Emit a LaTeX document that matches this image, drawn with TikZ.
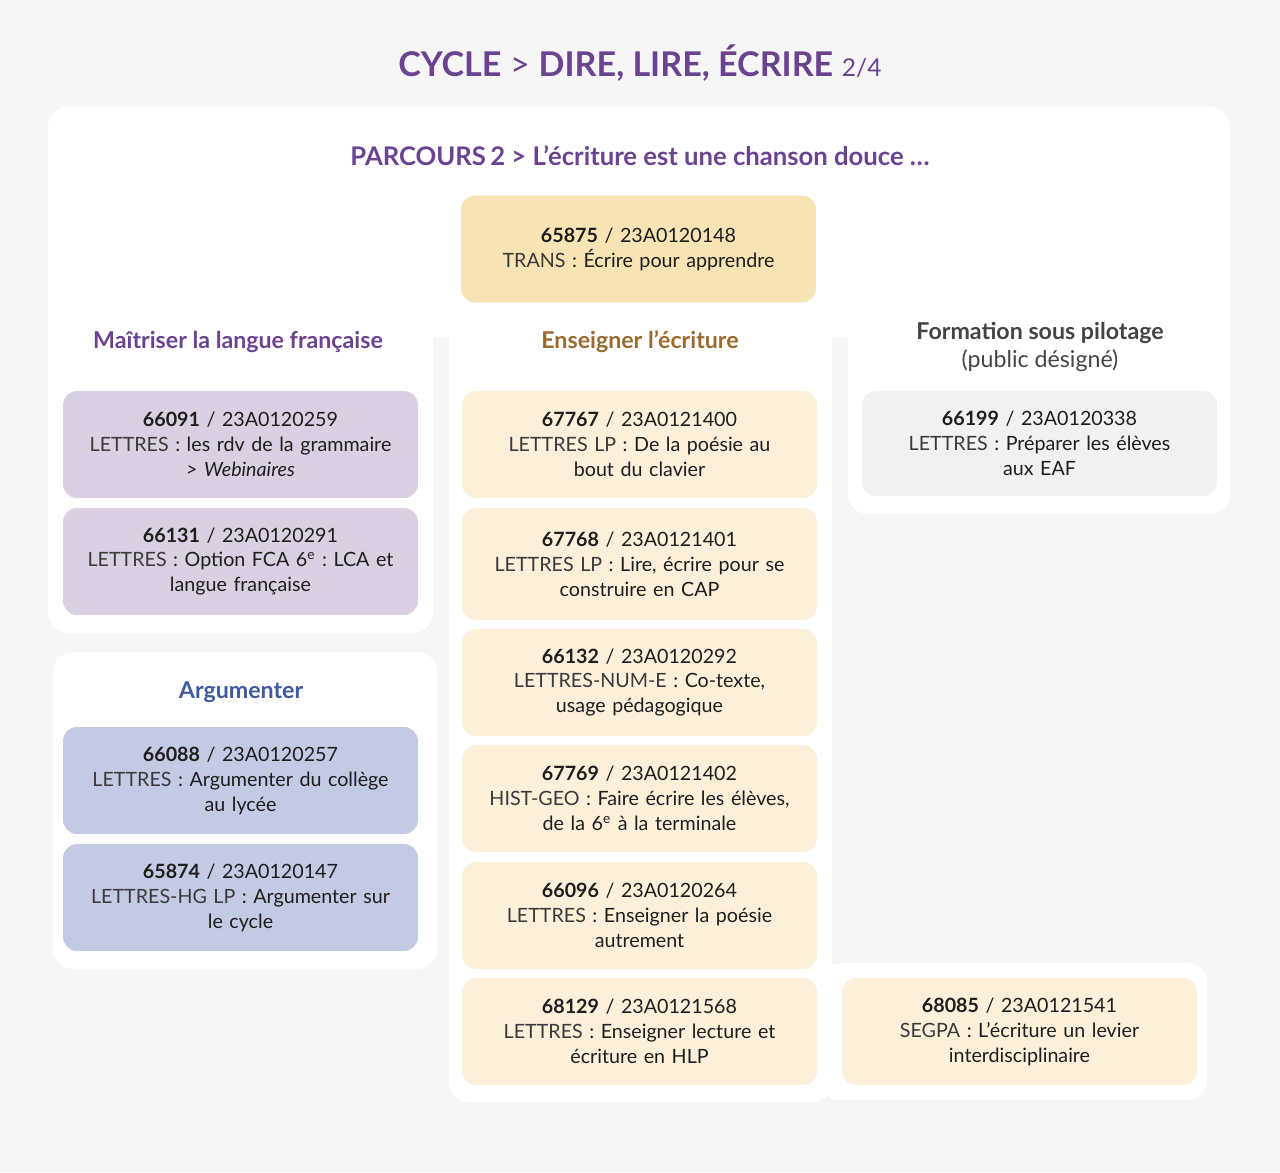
\documentclass[tikz,border=0pt]{standalone}
\usepackage{fontspec}
\setmainfont{Lato}
\frenchspacing
\usetikzlibrary{positioning}
\definecolor{bggray}{HTML}{F6F6F6}
\definecolor{titlepurple}{HTML}{6B4391}
\definecolor{goldbrown}{HTML}{9A6A2F}
\definecolor{argblue}{HTML}{3E5A9E}
\definecolor{pilotgray}{HTML}{444444}
\definecolor{transfill}{HTML}{F7E3B3}
\definecolor{writefill}{HTML}{FCF0DA}
\definecolor{langfill}{HTML}{DBCFE2}
\definecolor{argfill}{HTML}{C3CBE4}
\definecolor{pilotfill}{HTML}{F1F1F1}
\definecolor{bodytext}{HTML}{1E1E1E}
\definecolor{labeltext}{HTML}{3A3A3A}
\newcommand{\coursetext}[4]{\textbf{#1} / #2\\{\color{labeltext}#3} : #4}
\tikzset{
    % white panels behind the columns
    panel/.style={fill=white, rounded corners=0.4cm},
    % course boxes
    coursebox/.style={
        rectangle, rounded corners=0.28cm, inner sep=0pt,
        minimum width=7.1cm, minimum height=2.14cm,
        text width=6.9cm, align=center, text=bodytext,
        font=\fontsize{11.2}{14.2}\selectfont
    },
    transbox/.style={coursebox, fill=transfill},
    writebox/.style={coursebox, fill=writefill},
    langbox/.style={coursebox, fill=langfill},
    argbox/.style={coursebox, fill=argfill},
    pilotbox/.style={coursebox, fill=pilotfill, minimum height=2.1cm},
    % column headings
    heading/.style={
        align=center, inner sep=0pt,
        font=\fontsize{13.2}{16}\selectfont\bfseries
    }
}

\begin{document}
\begin{tikzpicture}[x=0.02cm, y=-0.02cm]

\fill[bggray] (0,0) rectangle (1280,1172);
\useasboundingbox (0,0) rectangle (1280,1172);

% panels
\fill[panel] (48,107) rectangle (1230,337);
\fill[white] (48,250) rectangle (1230,337);
\fill[panel] (48,300) rectangle (433,633);
\fill[panel] (449,300) rectangle (832,1102);
\fill[panel] (848,300) rectangle (1230,514);
\fill[panel] (820,963) rectangle (1207,1100);
\fill[panel] (53,652) rectangle (437,969);

% titles
\node[inner sep=0pt, text=titlepurple, font=\fontsize{19.4}{22}\selectfont] (title) at (640,63)
    {\textbf{CYCLE} {\fontseries{l}\selectfont >} \textbf{DIRE, LIRE, ÉCRIRE} {\fontsize{14}{16}\selectfont 2/4}};
\node[inner sep=0pt, text=titlepurple, font=\fontsize{14.6}{16}\selectfont\bfseries] (parcours) at (640,156)
    {PARCOURS\,2 > L’écriture est une chanson douce …};

\node[transbox] (c65875) at (638.5,249)
    {\coursetext{65875}{23A0120148}{TRANS}{Écrire pour apprendre}};

% Maitriser la langue francaise
\node[heading, text=titlepurple] (hlang) at (238,342) {Maîtriser la langue française};
\node[langbox] (c66091) at (240.5,444.5)
    {\coursetext{66091}{23A0120259}{LETTRES}{les rdv de la grammaire}\\\textit{> Webinaires}};
\node[langbox] (c66131) at (240.5,561.5)
    {\coursetext{66131}{23A0120291}{LETTRES}{Option FCA 6\textsuperscript{e} : LCA et}\\langue française};

% Argumenter
\node[heading, text=argblue] (harg) at (241,692) {Argumenter};
\node[argbox] (c66088) at (240.5,780.5)
    {\coursetext{66088}{23A0120257}{LETTRES}{Argumenter du collège}\\au lycée};
\node[argbox] (c65874) at (240.5,897.5)
    {\coursetext{65874}{23A0120147}{LETTRES-HG LP}{Argumenter sur}\\le cycle};

% Enseigner l'ecriture
\node[heading, text=goldbrown] (hwrite) at (640,342) {Enseigner l’écriture};
\node[writebox] (c67767) at (639.5,444.5)
    {\coursetext{67767}{23A0121400}{LETTRES LP}{De la poésie au}\\bout du clavier};
\node[writebox, minimum height=2.24cm] (c67768) at (639.5,564)
    {\coursetext{67768}{23A0121401}{LETTRES LP}{Lire, écrire pour se}\\construire en CAP};
\node[writebox] (c66132) at (639.5,682.5)
    {\coursetext{66132}{23A0120292}{LETTRES-NUM-E}{Co-texte,}\\usage pédagogique};
\node[writebox] (c67769) at (639.5,798.5)
    {\coursetext{67769}{23A0121402}{HIST-GEO}{Faire écrire les élèves,}\\de la 6\textsuperscript{e} à la terminale};
\node[writebox] (c66096) at (639.5,915.5)
    {\coursetext{66096}{23A0120264}{LETTRES}{Enseigner la poésie}\\autrement};
\node[writebox] (c68129) at (639.5,1031.5)
    {\coursetext{68129}{23A0121568}{LETTRES}{Enseigner lecture et}\\écriture en HLP};

% Formation sous pilotage
\node[heading, text=pilotgray] (hpilot) at (1040,347)
    {Formation sous pilotage\\{\mdseries (public désigné)}};
\node[pilotbox] (c66199) at (1039.5,443.5)
    {\coursetext{66199}{23A0120338}{LETTRES}{Préparer les élèves}\\aux EAF};

\node[writebox] (c68085) at (1019.5,1031.5)
    {\coursetext{68085}{23A0121541}{SEGPA}{L’écriture un levier}\\interdisciplinaire};

\end{tikzpicture}
\end{document}
